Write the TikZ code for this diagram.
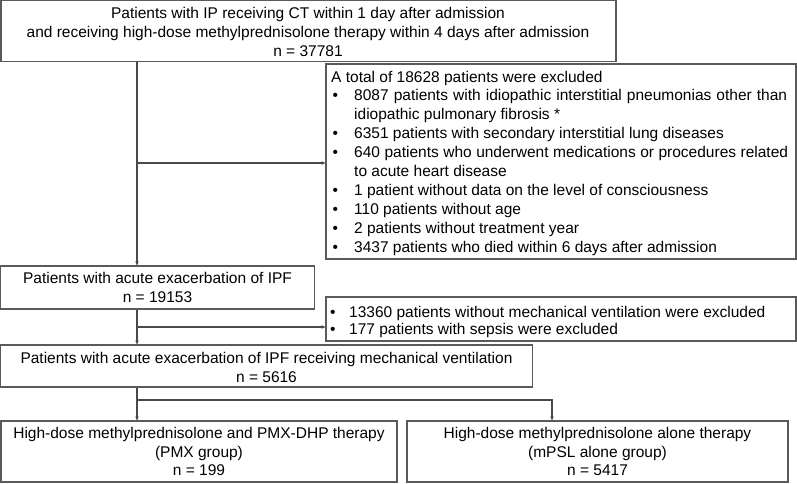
\documentclass[tikz,border=0pt]{standalone}
\usepackage{fontspec}
\setmainfont{Liberation Sans}
\usetikzlibrary{arrows.meta}
\definecolor{linegray}{HTML}{4A4A4A}
\definecolor{boxgray}{HTML}{5A5A5A}
\begin{document}
\begin{tikzpicture}[x=1pt,y=-1pt,
  box/.style={draw=boxgray,line width=1.1pt,inner sep=0pt,align=center,
    font=\fontsize{15.5}{18.8}\selectfont},
  listbox/.style={draw=boxgray,line width=1.1pt,inner sep=0pt},
  ln/.style={inner sep=0pt,anchor=base west,font=\fontsize{15.5}{18.9}\selectfont},
  conn/.style={draw=linegray,line width=1.2pt},
  arr/.style={conn,-{Stealth[length=4pt,width=3.5pt]}}]
\useasboundingbox (0,0) rectangle (797,483);
\newcommand{\bul}{\makebox[23pt][l]{\hspace{1.5pt}•}}
\newcommand{\bulb}{\makebox[18pt][l]{\hspace{-1pt}•}}
\newcommand{\wspa}{\kern 5.1pt\relax}
\newcommand{\wspb}{\kern 4.5pt\relax}
% boxes
\node[box,minimum width=615pt,minimum height=61pt] (b1) at (308.5,31) {};
\node[font=\fontsize{15.5}{18.8}\selectfont,align=center,inner sep=0pt] (t1) at (308,32)
 {Patients with IP receiving CT within 1 day after admission\\
  and receiving high-dose methylprednisolone therapy within 4 days after admission\\
  n = 37781};
\node[listbox,minimum width=470pt,minimum height=195pt] (e1) at (561,161.5) {};
\node[ln] (l1) at (331,82) {A total of 18628 patients were excluded};
\node[ln] (l2) at (331,100.9) {\bul 8087\wspa patients\wspa with\wspa idiopathic\wspa interstitial\wspa pneumonias\wspa other\wspa than};
\node[ln] (l3) at (354,119.8) {idiopathic pulmonary fibrosis *};
\node[ln] (l4) at (331,138.7) {\bul 6351 patients with secondary interstitial lung diseases};
\node[ln] (l5) at (331,157.6) {\bul 640\wspb patients\wspb who\wspb underwent\wspb medications\wspb or\wspb procedures\wspb related};
\node[ln] (l6) at (354,176.5) {to acute heart disease};
\node[ln] (l7) at (331,195.4) {\bul 1 patient without data on the level of consciousness};
\node[ln] (l8) at (331,214.3) {\bul 110 patients without age};
\node[ln] (l9) at (331,233.2) {\bul 2 patients without treatment year};
\node[ln] (l10) at (331,252.1) {\bul 3437 patients who died within 6 days after admission};
\node[box,minimum width=314pt,minimum height=43pt] (b2) at (157.5,287.5)
 {Patients with acute exacerbation of IPF\\ n = 19153};
\node[listbox,minimum width=470pt,minimum height=44pt] (e2) at (561,319) {};
\node[ln] (m1) at (331,317) {\bulb 13360 patients without mechanical ventilation were excluded};
\node[ln] (m2) at (331,334.5) {\bulb 177 patients with sepsis were excluded};
\node[box,minimum width=532pt,minimum height=42pt] (b3) at (266.5,366) {};
\node[font=\fontsize{15.5}{18.8}\selectfont,align=center,inner sep=0pt] (t3) at (266.5,367.5)
 {Patients with acute exacerbation of IPF receiving mechanical ventilation\\ n = 5616};
\node[box,minimum width=396pt,minimum height=61pt] (b4) at (199,451.5)
 {High-dose methylprednisolone and PMX-DHP therapy\\ (PMX group)\\ n = 199};
\node[box,minimum width=381pt,minimum height=61pt] (b5) at (597.5,451.5)
 {High-dose methylprednisolone alone therapy\\ (mPSL alone group)\\ n = 5417};
% connectors
\coordinate (j1) at (137,163);
\coordinate (j2) at (137,327);
\coordinate (j3) at (137,400);
\coordinate (j4) at (552,400);
\draw[arr] (b1.south -| j1) -- (b2.north -| j1);
\draw[arr] (j1) -- (e1.west |- j1);
\draw[arr] (b2.south -| j2) -- (b3.north -| j2);
\draw[arr] (j2) -- (e2.west |- j2);
\draw[arr] (b3.south -| j3) -- (b4.north -| j3);
\draw[arr] (j3) -- (j4) -- (b5.north -| j4);
\end{tikzpicture}
\end{document}
